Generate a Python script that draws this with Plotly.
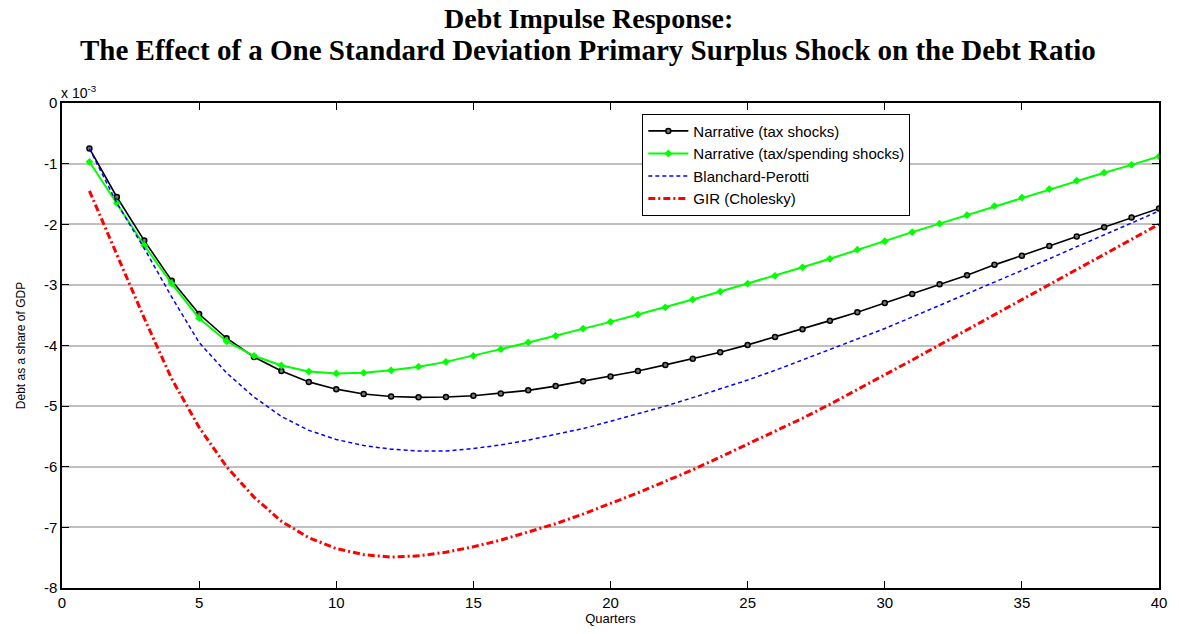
import plotly.graph_objects as go

# Quarters after the shock
quarters = list(range(1, 41))

# Debt-ratio responses, in units of 10^-3
narrative_tax = [-0.75, -1.55, -2.27, -2.93, -3.48, -3.88, -4.19, -4.42, -4.60, -4.72,
                 -4.80, -4.84, -4.855, -4.85, -4.83, -4.79, -4.74, -4.67, -4.59, -4.51,
                 -4.42, -4.32, -4.22, -4.11, -3.99, -3.86, -3.73, -3.59, -3.45, -3.30,
                 -3.15, -2.99, -2.84, -2.67, -2.52, -2.36, -2.20, -2.05, -1.89, -1.74]
narrative_tax_spend = [-0.97, -1.65, -2.35, -2.98, -3.55, -3.93, -4.17, -4.33, -4.43, -4.46,
                       -4.45, -4.41, -4.35, -4.27, -4.17, -4.06, -3.95, -3.84, -3.72, -3.61,
                       -3.49, -3.37, -3.24, -3.11, -2.98, -2.85, -2.71, -2.57, -2.42, -2.28,
                       -2.13, -1.99, -1.85, -1.70, -1.56, -1.42, -1.28, -1.15, -1.02, -0.88]
blanchard_perotti = [-0.75, -1.65, -2.40, -3.20, -3.95, -4.45, -4.85, -5.17, -5.40, -5.55,
                     -5.65, -5.71, -5.74, -5.74, -5.70, -5.64, -5.56, -5.47, -5.37, -5.25,
                     -5.13, -5.00, -4.86, -4.72, -4.57, -4.41, -4.24, -4.07, -3.90, -3.72,
                     -3.53, -3.34, -3.15, -2.96, -2.77, -2.57, -2.37, -2.18, -1.98, -1.78]
gir_cholesky = [-1.45, -2.50, -3.55, -4.55, -5.35, -6.00, -6.50, -6.90, -7.17, -7.35,
                -7.45, -7.49, -7.47, -7.41, -7.32, -7.21, -7.08, -6.94, -6.78, -6.61,
                -6.43, -6.24, -6.05, -5.84, -5.63, -5.42, -5.20, -4.97, -4.73, -4.49,
                -4.24, -3.99, -3.74, -3.49, -3.24, -3.00, -2.75, -2.50, -2.25, -2.00]

x_ticks = [0, 5, 10, 15, 20, 25, 30, 35, 40]
y_ticks = [0, -1, -2, -3, -4, -5, -6, -7, -8]
y_tick_text = ["0", "-1", "-2", "-3", "-4", "-5", "-6", "-7", "-8"]

title_lines = [
    "Debt Impulse Response:",
    "The Effect of a One Standard Deviation Primary Surplus Shock on the Debt Ratio",
]

fig = go.Figure()
fig.add_trace(go.Scatter(
    x=quarters, y=narrative_tax, mode="lines+markers", name="Narrative (tax shocks)",
    line=dict(color="black", width=1.6),
    marker=dict(symbol="circle", size=5, color="#777777", line=dict(color="black", width=1.5)),
))
fig.add_trace(go.Scatter(
    x=quarters, y=narrative_tax_spend, mode="lines+markers",
    name="Narrative (tax/spending shocks)",
    line=dict(color="#00ff00", width=2),
    marker=dict(symbol="diamond", size=6, color="#00ff00"),
))
fig.add_trace(go.Scatter(
    x=quarters, y=blanchard_perotti, mode="lines", name="Blanchard-Perotti",
    line=dict(color="#0000ff", width=1.5, dash="4px,3px"),
))
fig.add_trace(go.Scatter(
    x=quarters, y=gir_cholesky, mode="lines", name="GIR (Cholesky)",
    line=dict(color="#ff0000", width=3, dash="7px,3px,2px,3px"),
))

serif = "Liberation Serif, Times New Roman, serif"
annotations = [
    dict(text="<b>%s</b>" % title_lines[0], xref="paper", yref="paper",
         x=0.4796, y=1.0, yshift=85, xanchor="center", yanchor="middle", showarrow=False,
         font=dict(family=serif, size=28, color="black")),
    dict(text="<b>%s</b>" % title_lines[1], xref="paper", yref="paper",
         x=0.4796, y=1.0, yshift=53, xanchor="center", yanchor="middle", showarrow=False,
         font=dict(family=serif, size=29, color="black")),
    dict(text="x 10<sup>-3</sup>", xref="paper", yref="paper", x=-0.003, y=1.0,
         xanchor="left", yanchor="bottom", showarrow=False, font=dict(size=14)),
]

fig.update_layout(
    width=1179, height=634,
    margin=dict(l=62, r=16, t=103, b=36),
    paper_bgcolor="white", plot_bgcolor="white",
    font=dict(family="Liberation Sans, Arial, sans-serif", size=15, color="black"),
    showlegend=True,
    legend=dict(
        x=0.529, y=0.978, xanchor="left", yanchor="top",
        bgcolor="white", bordercolor="black", borderwidth=1,
        font=dict(size=15, family="Liberation Sans, Arial, sans-serif"),
        tracegroupgap=0, itemwidth=40,
    ),
    xaxis=dict(
        range=[0, 40], tickvals=x_ticks, ticks="inside", ticklen=7, tickcolor="black",
        showline=True, linecolor="black", linewidth=1.5, mirror="ticks",
        showgrid=False, zeroline=False, tickfont=dict(size=15),
        title=dict(text="Quarters", font=dict(size=13), standoff=2),
    ),
    yaxis=dict(
        range=[-8, 0], tickvals=y_ticks, ticktext=y_tick_text, ticks="inside", ticklen=7,
        tickcolor="black",
        showline=True, linecolor="black", linewidth=1.5, mirror="ticks",
        showgrid=True, gridcolor="#c0c0c0", gridwidth=2, zeroline=False,
        tickfont=dict(size=15),
        title=dict(text="Debt as a share of GDP", font=dict(size=12), standoff=16),
    ),
    annotations=annotations,
)

fig.write_html("out.html")
